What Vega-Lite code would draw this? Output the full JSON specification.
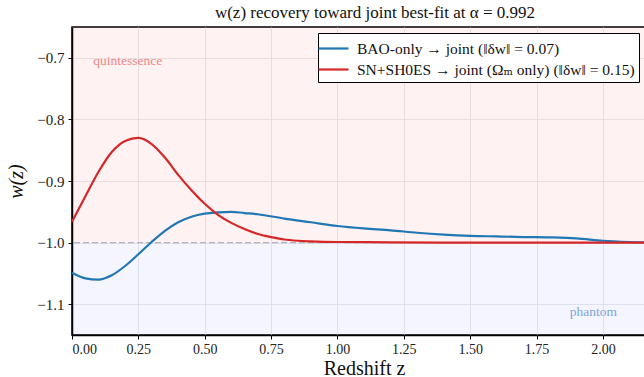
{
  "$schema": "https://vega.github.io/schema/vega-lite/v6.json",
  "width": 584,
  "height": 308,
  "autosize": {"type": "none"},
  "padding": {"left": 72, "top": 27, "right": 0, "bottom": 42},
  "background": "white",
  "title": {"text": "w(z) recovery toward joint best-fit at α = 0.992", "font": "Liberation Serif", "fontSize": 17, "fontWeight": "normal", "color": "#111111", "offset": 5, "anchor": "middle", "dx": 11},
  "config": {
    "font": "Liberation Serif",
    "view": {"stroke": "black", "strokeWidth": 1.5},
    "axis": {
      "labelFont": "Liberation Serif", "titleFont": "Liberation Serif",
      "labelColor": "#222222", "titleColor": "#111111",
      "gridColor": "#e3e3e8", "gridWidth": 0.8,
      "domainColor": "black", "domainWidth": 1.5,
      "tickColor": "black", "tickSize": 4, "tickWidth": 1,
      "titleFontWeight": "normal"
    }
  },
  "datasets": {
    "bands": [
      {"region": "quintessence", "lo": -1.0, "hi": -0.65},
      {"region": "phantom", "lo": -1.15, "hi": -1.0}
    ],
    "ref": [{"w": -1.0}],
    "notes": [
      {"label": "quintessence", "z": 0.08, "w": -0.705, "kind": "quintessence"},
      {"label": "phantom", "z": 1.875, "w": -1.113, "kind": "phantom"}
    ],
    "curves": [
      {"series": "BAO-only → joint (‖δw‖ = 0.07)", "z": 0.00, "w": -1.049},
      {"series": "BAO-only → joint (‖δw‖ = 0.07)", "z": 0.05, "w": -1.058},
      {"series": "BAO-only → joint (‖δw‖ = 0.07)", "z": 0.10, "w": -1.060},
      {"series": "BAO-only → joint (‖δw‖ = 0.07)", "z": 0.15, "w": -1.053},
      {"series": "BAO-only → joint (‖δw‖ = 0.07)", "z": 0.20, "w": -1.038},
      {"series": "BAO-only → joint (‖δw‖ = 0.07)", "z": 0.25, "w": -1.019},
      {"series": "BAO-only → joint (‖δw‖ = 0.07)", "z": 0.30, "w": -0.999},
      {"series": "BAO-only → joint (‖δw‖ = 0.07)", "z": 0.35, "w": -0.981},
      {"series": "BAO-only → joint (‖δw‖ = 0.07)", "z": 0.40, "w": -0.967},
      {"series": "BAO-only → joint (‖δw‖ = 0.07)", "z": 0.45, "w": -0.958},
      {"series": "BAO-only → joint (‖δw‖ = 0.07)", "z": 0.50, "w": -0.953},
      {"series": "BAO-only → joint (‖δw‖ = 0.07)", "z": 0.55, "w": -0.951},
      {"series": "BAO-only → joint (‖δw‖ = 0.07)", "z": 0.60, "w": -0.950},
      {"series": "BAO-only → joint (‖δw‖ = 0.07)", "z": 0.65, "w": -0.952},
      {"series": "BAO-only → joint (‖δw‖ = 0.07)", "z": 0.70, "w": -0.954},
      {"series": "BAO-only → joint (‖δw‖ = 0.07)", "z": 0.80, "w": -0.961},
      {"series": "BAO-only → joint (‖δw‖ = 0.07)", "z": 0.90, "w": -0.967},
      {"series": "BAO-only → joint (‖δw‖ = 0.07)", "z": 1.00, "w": -0.973},
      {"series": "BAO-only → joint (‖δw‖ = 0.07)", "z": 1.10, "w": -0.977},
      {"series": "BAO-only → joint (‖δw‖ = 0.07)", "z": 1.20, "w": -0.980},
      {"series": "BAO-only → joint (‖δw‖ = 0.07)", "z": 1.30, "w": -0.984},
      {"series": "BAO-only → joint (‖δw‖ = 0.07)", "z": 1.40, "w": -0.987},
      {"series": "BAO-only → joint (‖δw‖ = 0.07)", "z": 1.50, "w": -0.989},
      {"series": "BAO-only → joint (‖δw‖ = 0.07)", "z": 1.60, "w": -0.990},
      {"series": "BAO-only → joint (‖δw‖ = 0.07)", "z": 1.70, "w": -0.991},
      {"series": "BAO-only → joint (‖δw‖ = 0.07)", "z": 1.80, "w": -0.9915},
      {"series": "BAO-only → joint (‖δw‖ = 0.07)", "z": 1.90, "w": -0.993},
      {"series": "BAO-only → joint (‖δw‖ = 0.07)", "z": 2.00, "w": -0.997},
      {"series": "BAO-only → joint (‖δw‖ = 0.07)", "z": 2.10, "w": -0.999},
      {"series": "BAO-only → joint (‖δw‖ = 0.07)", "z": 2.20, "w": -1.000},
      {"series": "SN+SH0ES → joint (Ωₘ only) (‖δw‖ = 0.15)", "z": 0.00, "w": -0.966},
      {"series": "SN+SH0ES → joint (Ωₘ only) (‖δw‖ = 0.15)", "z": 0.05, "w": -0.925},
      {"series": "SN+SH0ES → joint (Ωₘ only) (‖δw‖ = 0.15)", "z": 0.10, "w": -0.885},
      {"series": "SN+SH0ES → joint (Ωₘ only) (‖δw‖ = 0.15)", "z": 0.15, "w": -0.853},
      {"series": "SN+SH0ES → joint (Ωₘ only) (‖δw‖ = 0.15)", "z": 0.20, "w": -0.835},
      {"series": "SN+SH0ES → joint (Ωₘ only) (‖δw‖ = 0.15)", "z": 0.25, "w": -0.830},
      {"series": "SN+SH0ES → joint (Ωₘ only) (‖δw‖ = 0.15)", "z": 0.30, "w": -0.840},
      {"series": "SN+SH0ES → joint (Ωₘ only) (‖δw‖ = 0.15)", "z": 0.35, "w": -0.862},
      {"series": "SN+SH0ES → joint (Ωₘ only) (‖δw‖ = 0.15)", "z": 0.40, "w": -0.890},
      {"series": "SN+SH0ES → joint (Ωₘ only) (‖δw‖ = 0.15)", "z": 0.45, "w": -0.915},
      {"series": "SN+SH0ES → joint (Ωₘ only) (‖δw‖ = 0.15)", "z": 0.50, "w": -0.937},
      {"series": "SN+SH0ES → joint (Ωₘ only) (‖δw‖ = 0.15)", "z": 0.55, "w": -0.955},
      {"series": "SN+SH0ES → joint (Ωₘ only) (‖δw‖ = 0.15)", "z": 0.60, "w": -0.968},
      {"series": "SN+SH0ES → joint (Ωₘ only) (‖δw‖ = 0.15)", "z": 0.65, "w": -0.978},
      {"series": "SN+SH0ES → joint (Ωₘ only) (‖δw‖ = 0.15)", "z": 0.70, "w": -0.986},
      {"series": "SN+SH0ES → joint (Ωₘ only) (‖δw‖ = 0.15)", "z": 0.75, "w": -0.991},
      {"series": "SN+SH0ES → joint (Ωₘ only) (‖δw‖ = 0.15)", "z": 0.80, "w": -0.995},
      {"series": "SN+SH0ES → joint (Ωₘ only) (‖δw‖ = 0.15)", "z": 0.85, "w": -0.997},
      {"series": "SN+SH0ES → joint (Ωₘ only) (‖δw‖ = 0.15)", "z": 0.90, "w": -0.998},
      {"series": "SN+SH0ES → joint (Ωₘ only) (‖δw‖ = 0.15)", "z": 1.00, "w": -0.999},
      {"series": "SN+SH0ES → joint (Ωₘ only) (‖δw‖ = 0.15)", "z": 1.20, "w": -0.9995},
      {"series": "SN+SH0ES → joint (Ωₘ only) (‖δw‖ = 0.15)", "z": 1.50, "w": -1.000},
      {"series": "SN+SH0ES → joint (Ωₘ only) (‖δw‖ = 0.15)", "z": 2.20, "w": -1.000}
    ]
  },
  "layer": [
    {
      "data": {"name": "bands"},
      "mark": {"type": "rect", "opacity": 0.05},
      "encoding": {
        "y": {"field": "lo", "type": "quantitative", "scale": {"domain": [-1.15, -0.65], "nice": false, "zero": false},
          "axis": {"title": "w(z)", "titleFontSize": 20, "titleFontStyle": "italic", "titlePadding": 10, "labelFontSize": 15, "format": ".1f", "values": [-1.1, -1.0, -0.9, -0.8, -0.7], "labelPadding": 4}},
        "y2": {"field": "hi"},
        "fill": {"field": "region", "type": "nominal", "scale": {"domain": ["quintessence", "phantom"], "range": ["#ff0000", "#1f3fff"]}, "legend": null}
      }
    },
    {
      "data": {"name": "ref"},
      "mark": {"type": "rule", "color": "#a8a0b0", "strokeWidth": 1.2, "strokeDash": [6, 3], "opacity": 0.8},
      "encoding": {"y": {"field": "w", "type": "quantitative"}}
    },
    {
      "data": {"name": "curves"},
      "mark": {"type": "line", "strokeWidth": 2.2, "interpolate": "monotone"},
      "encoding": {
        "x": {"field": "z", "type": "quantitative", "scale": {"domain": [0, 2.2], "nice": false, "zero": false},
          "axis": {"title": "Redshift z", "titleFontSize": 20, "labelFontSize": 14, "format": ".2f", "values": [0, 0.25, 0.5, 0.75, 1.0, 1.25, 1.5, 1.75, 2.0], "titlePadding": 2, "labelPadding": 3}},
        "y": {"field": "w", "type": "quantitative"},
        "color": {"field": "series", "type": "nominal",
          "scale": {"domain": ["BAO-only → joint (‖δw‖ = 0.07)", "SN+SH0ES → joint (Ωₘ only) (‖δw‖ = 0.15)"], "range": ["#1f77b4", "#d62728"]},
          "legend": {"title": null, "orient": "none", "legendX": 246, "legendY": 6, "symbolType": "M-1.5,0L1.5,0", "symbolSize": 400, "symbolStrokeWidth": 2.2, "labelFont": "Liberation Serif, DejaVu Serif", "labelFontSize": 15.5, "labelColor": "#111111", "strokeColor": "black", "fillColor": "white", "padding": 4, "rowPadding": 1, "labelOffset": 12, "labelLimit": 400, "cornerRadius": 0, "offset": 0}
        }
      }
    },
    {
      "data": {"name": "notes"},
      "transform": [{"filter": "datum.kind === 'quintessence'"}],
      "mark": {"type": "text", "fontSize": 13.5, "font": "Liberation Serif", "align": "left", "baseline": "middle", "color": "#ee8888"},
      "encoding": {
        "x": {"field": "z", "type": "quantitative"},
        "y": {"field": "w", "type": "quantitative"},
        "text": {"field": "label"}
      }
    },
    {
      "data": {"name": "notes"},
      "transform": [{"filter": "datum.kind === 'phantom'"}],
      "mark": {"type": "text", "fontSize": 13.5, "font": "Liberation Serif", "align": "left", "baseline": "middle", "color": "#7ea6da"},
      "encoding": {
        "x": {"field": "z", "type": "quantitative"},
        "y": {"field": "w", "type": "quantitative"},
        "text": {"field": "label"}
      }
    }
  ],
  "resolve": {"scale": {"color": "independent"}}
}
